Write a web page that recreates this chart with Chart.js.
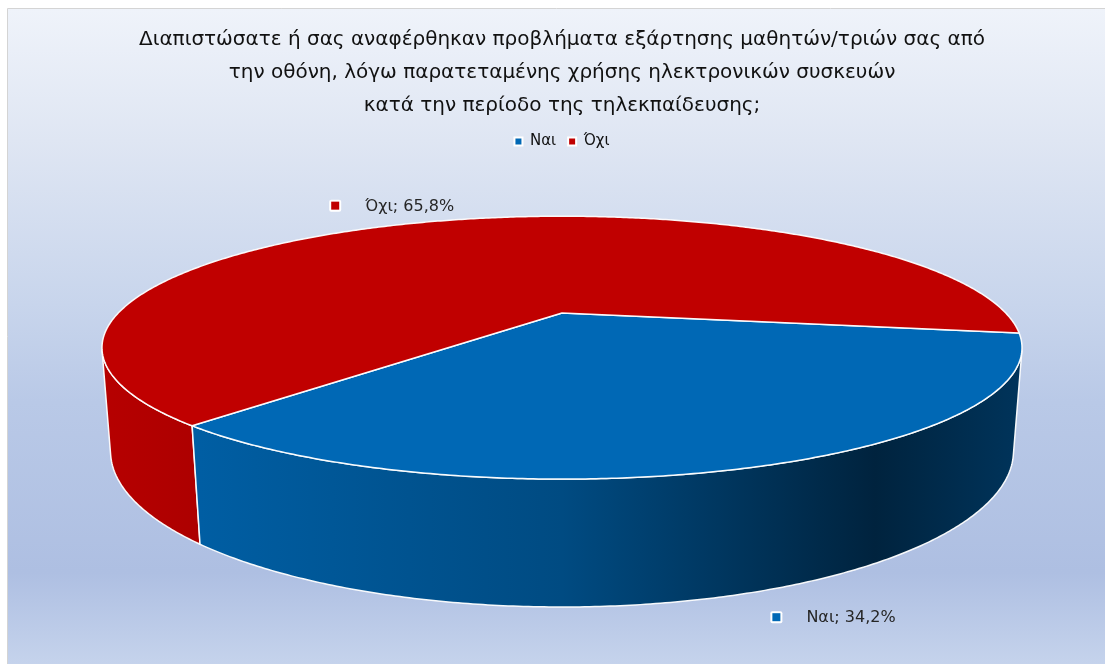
<!DOCTYPE html>
<html lang="el">
<head>
<meta charset="UTF-8">
<title>Εξάρτηση από την οθόνη</title>
<script src="https://cdn.jsdelivr.net/npm/chart.js@4.4.1/dist/chart.umd.min.js"></script>
<style>
    html, body { margin: 0; padding: 0; background: #ffffff; }
    #wrap { width: 1105px; height: 664px; }
</style>
</head>
<body>
<div id="wrap"><canvas id="pie3d" width="1105" height="664"></canvas></div>
<script>
    // --- DATA ---
    const categories = ['Ναι', 'Όχι'];
    const percents = [34.2, 65.8];
    const sliceColors = ['#0068b5', '#c00000'];
    const titleLines = [
        'Διαπιστώσατε ή σας αναφέρθηκαν προβλήματα εξάρτησης μαθητών/τριών σας από',
        'την οθόνη, λόγω παρατεταμένης χρήσης ηλεκτρονικών συσκευών',
        'κατά την περίοδο της τηλεκπαίδευσης;'
    ];

    // --- 3D look (camera tilt, distance and disc thickness) ---
    const view = { elevation: 16, distance: 3.65, depth: 0.233 };
    const wallShade = [[0, 0.95], [0.5, 0.72], [0.84, 0.34], [1, 0.5]];
    const labelOffsets = [[79, 25], [-52, -15]];
    const labelFont = '16px "DejaVu Sans"';

    const EL = view.elevation * Math.PI / 180;
    const S = Math.sin(EL), C = Math.cos(EL);

    // disc point (angle, radius, top/bottom face) -> normalised perspective coords
    function projN(theta, r, bottom) {
        const u = r * Math.cos(theta), v = r * Math.sin(theta);
        const y = bottom ? -view.depth : 0;
        const yc = v * S - y * C;
        const zc = view.distance - v * C - y * S;
        return [u / zc, yc / zc];
    }

    // fit the projected disc into the chart area (width fit, bottom aligned)
    function makeProjector(area) {
        let minX = Infinity, maxX = -Infinity, maxY = -Infinity;
        for (let d = 0; d < 360; d += 0.5) {
            [false, true].forEach(b => {
                const p = projN(d * Math.PI / 180, 1, b);
                minX = Math.min(minX, p[0]); maxX = Math.max(maxX, p[0]);
                maxY = Math.max(maxY, p[1]);
            });
        }
        const k = (area.right - area.left) / (maxX - minX);
        const ox = area.left - minX * k, oy = area.bottom - maxY * k;
        return (theta, r, bottom) => {
            const p = projN(theta, r, bottom);
            return [ox + p[0] * k, oy + p[1] * k];
        };
    }

    function arcPts(proj, a0, a1, bottom) {
        const n = Math.max(2, Math.ceil((a1 - a0) / (Math.PI / 360)));
        const pts = [];
        for (let j = 0; j <= n; j++) pts.push(proj(a0 + (a1 - a0) * j / n, 1, bottom));
        return pts;
    }

    function shade(hex, m) {
        const n = parseInt(hex.slice(1), 16);
        const r = Math.round(((n >> 16) & 255) * m);
        const g = Math.round(((n >> 8) & 255) * m);
        const b = Math.round((n & 255) * m);
        return `rgb(${r},${g},${b})`;
    }

    function tracePath(ctx, pts) {
        ctx.beginPath();
        pts.forEach((p, k) => k ? ctx.lineTo(p[0], p[1]) : ctx.moveTo(p[0], p[1]));
        ctx.closePath();
    }

    function draw3D(chart) {
        const ctx = chart.ctx;
        const area = chart.chartArea;
        const meta = chart.getDatasetMeta(0);
        const proj = makeProjector(area);
        // side wall is visible between the two silhouette angles
        const sil = Math.asin(1 / (view.distance * C));
        const walls = [];
        meta.data.forEach((arc, i) => {
            for (let n = -1; n <= 1; n++) {
                const lo = Math.max(arc.startAngle, sil + 2 * Math.PI * n);
                const hi = Math.min(arc.endAngle, Math.PI - sil + 2 * Math.PI * n);
                if (hi > lo) walls.push({ i, lo, hi, depth: Math.sin((lo + hi) / 2) });
            }
        });
        walls.sort((a, b) => a.depth - b.depth);

        ctx.save();
        ctx.lineJoin = 'round';
        ctx.strokeStyle = 'rgba(255,255,255,0.95)';
        ctx.lineWidth = 1.5;
        walls.forEach(w => {
            const top = arcPts(proj, w.lo, w.hi, false);
            const bot = arcPts(proj, w.lo, w.hi, true).reverse();
            tracePath(ctx, top.concat(bot));
            const g = ctx.createLinearGradient(area.left, 0, area.right, 0);
            wallShade.forEach(([t, m]) => g.addColorStop(t, shade(sliceColors[w.i], m)));
            ctx.fillStyle = g;
            ctx.fill();
            ctx.stroke();
        });
        const c0 = proj(0, 0, false);
        meta.data.forEach((arc, i) => {
            tracePath(ctx, [c0].concat(arcPts(proj, arc.startAngle, arc.endAngle, false)));
            ctx.fillStyle = sliceColors[i];
            ctx.fill();
            ctx.stroke();
        });
        ctx.restore();
    }

    function drawLabels(chart) {
        const ctx = chart.ctx;
        const meta = chart.getDatasetMeta(0);
        const proj = makeProjector(chart.chartArea);
        ctx.save();
        ctx.font = labelFont;
        ctx.textBaseline = 'middle';
        meta.data.forEach((arc, i) => {
            const mid = (arc.startAngle + arc.endAngle) / 2;
            const a = proj(mid, 1, Math.sin(mid) > 0);
            const text = categories[i] + '; ' + percents[i].toFixed(1).replace('.', ',') + '%';
            const tw = ctx.measureText(text).width;
            const total = 12 + 24 + tw;
            const cx = a[0] + labelOffsets[i][0], cy = a[1] + labelOffsets[i][1];
            const x0 = cx - total / 2;
            ctx.fillStyle = '#ffffff';
            ctx.beginPath();
            ctx.roundRect(x0, cy - 6, 12, 12, 2);
            ctx.fill();
            ctx.fillStyle = sliceColors[i];
            ctx.fillRect(x0 + 2, cy - 4, 8, 8);
            ctx.fillStyle = '#262626';
            ctx.textAlign = 'left';
            ctx.fillText(text, x0 + 36, cy + 1);
        });
        ctx.restore();
    }

    const pie3dPlugin = {
        id: 'pie3d',
        beforeDraw(chart) {
            const ctx = chart.ctx;
            const W = chart.width, H = chart.height;
            ctx.save();
            ctx.fillStyle = '#ffffff';
            ctx.fillRect(0, 0, W, H);
            const g = ctx.createLinearGradient(0, 9, 0, H);
            g.addColorStop(0, '#eff3fa');
            g.addColorStop(0.2, '#dfe6f3');
            g.addColorStop(0.45, '#c8d5ec');
            g.addColorStop(0.6, '#b9c9e7');
            g.addColorStop(0.86, '#aebfe2');
            g.addColorStop(1, '#c5d3ec');
            ctx.fillStyle = g;
            ctx.fillRect(8, 9, W - 8, H - 9);
            ctx.strokeStyle = '#d4d4d4';
            ctx.lineWidth = 1;
            ctx.beginPath();
            ctx.moveTo(7.5, H); ctx.lineTo(7.5, 8.5); ctx.lineTo(W, 8.5);
            ctx.stroke();
            ctx.restore();
        },
        beforeDatasetsDraw(chart) {
            draw3D(chart);
            return false;
        },
        afterDraw(chart) {
            drawLabels(chart);
        }
    };

    new Chart(document.getElementById('pie3d'), {
        type: 'pie',
        data: {
            labels: categories,
            datasets: [{
                data: percents,
                backgroundColor: sliceColors,
                borderColor: '#ffffff',
                borderWidth: 2
            }]
        },
        options: {
            responsive: false,
            animation: false,
            rotation: 99,
            layout: { padding: { top: 9, left: 102, right: 83, bottom: 57 } },
            plugins: {
                title: {
                    display: true,
                    text: titleLines,
                    color: '#111111',
                    font: { family: 'DejaVu Sans', size: 20, weight: 'normal', lineHeight: 1.65 },
                    padding: { top: 14, bottom: 0 }
                },
                legend: {
                    position: 'top',
                    labels: {
                        boxWidth: 8,
                        boxHeight: 8,
                        color: '#111111',
                        font: { family: 'DejaVu Sans', size: 15 },
                        padding: 12
                    }
                },
                tooltip: { enabled: false }
            }
        },
        plugins: [pie3dPlugin]
    });
</script>
</body>
</html>
